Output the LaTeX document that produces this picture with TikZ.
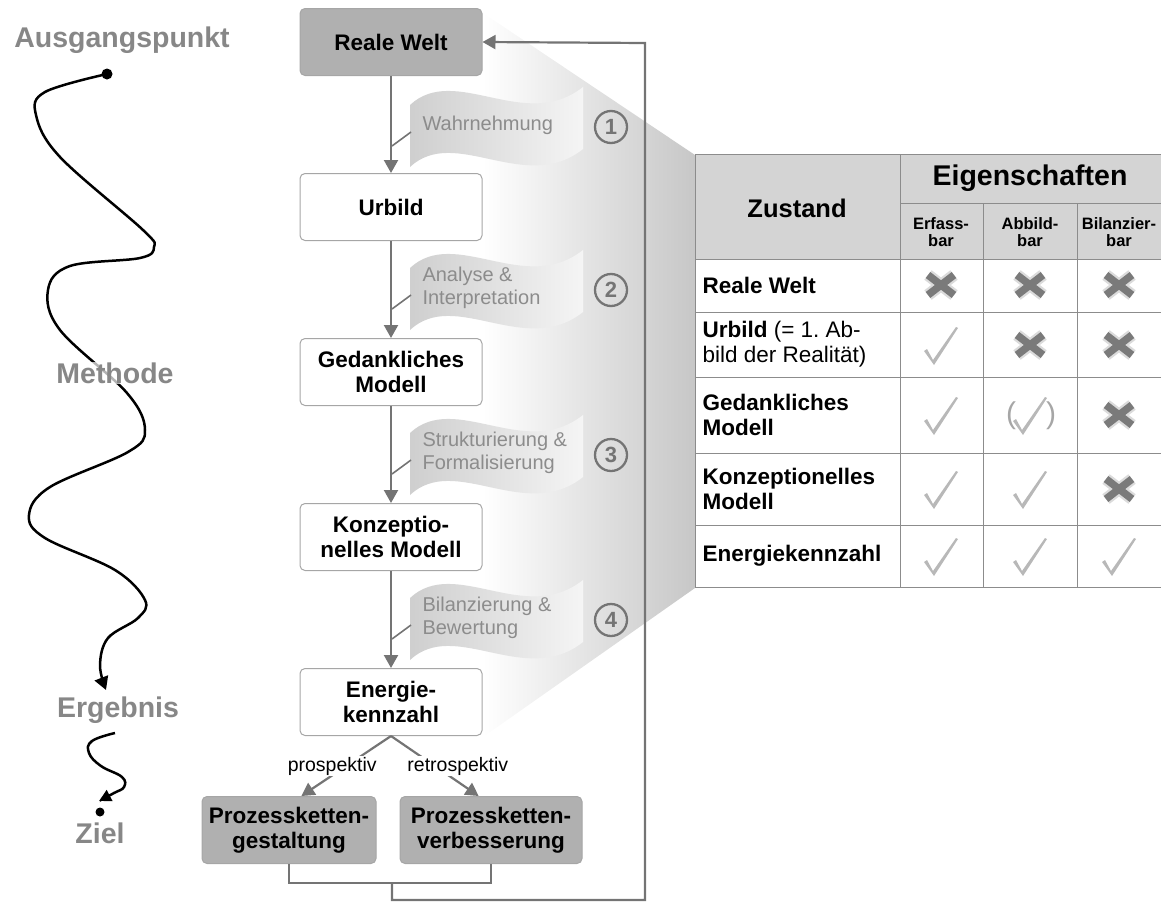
\documentclass[tikz,border=0pt]{standalone}
\usepackage{fontspec}
\setmainfont{Liberation Sans}
\usetikzlibrary{positioning, arrows.meta}
\frenchspacing

\definecolor{liniengrau}{HTML}{747474}
\definecolor{titelgrau}{HTML}{878787}

\tikzset{
  zustand/.style={draw=black!35, line width=1pt, rounded corners=5pt, fill=white,
    minimum width=182pt, minimum height=67pt, align=center,
    font=\bfseries\fontsize{22.5}{25}\selectfont},
  welt/.style={zustand, fill=black!31},
  flow/.style={draw=liniengrau, line width=2.2pt},
  tip/.style={-{Triangle[length=13pt,width=14pt]}},
  etappe/.style={font=\bfseries\fontsize{28.5}{30}\selectfont, text=titelgrau},
  fahnentext/.style={font=\fontsize{20}{23}\selectfont, text=black!45, align=left, anchor=west},
  nummer/.style={circle, draw=liniengrau, line width=2.3pt, minimum size=32pt, inner sep=0pt,
    text=liniengrau, font=\bfseries\fontsize{22}{22}\selectfont},
  richtung/.style={font=\fontsize{19.5}{22}\selectfont, fill=white, inner sep=1pt},
  tabline/.style={draw=black!45, line width=1pt},
  kopf/.style={font=\bfseries\fontsize{#1}{#1}\selectfont, align=center},
  zeile/.style={font=\fontsize{22.5}{25}\selectfont, align=left, anchor=west},
  spalte/.style={font=\bfseries\fontsize{16.5}{17}\selectfont, align=center},
  haken/.pic={\fill[black!28] (-17,5) -- (-14,3) -- (-8,14) -- (15,-19) -- (17,-18) -- (-7,19) -- cycle;},
  kreuz/.pic={
    \draw[black!14, line width=12pt] (-13,-10) -- (13,10) (-13,10) -- (13,-10);
    \draw[black!52, line width=7.5pt] (-13,-10) -- (13,10) (-13,10) -- (13,-10);}
}

\begin{document}
\begin{tikzpicture}[x=1pt, y=-1pt, node distance=165pt, on grid]
\useasboundingbox (0,0) rectangle (1161,902);

% Trichter zur Tabelle
\shade[left color=white, right color=black!22] (483,13) -- (695,155) -- (695,588) -- (483,737) -- cycle;

% linker Weg
\node[etappe] (start) at (122,40) {Ausgangspunkt};
\node[etappe] (ergebnis) at (118,710) {Ergebnis};
\node[etappe] (ziel) at (100,833) {Ziel};
\draw[line width=2.5pt, tip] plot[smooth, tension=0.6] coordinates {(107,74) (45,92) (36,115) (60,157) (143,230) (154,247) (140,258) (70,266) (48,290) (60,330) (127,393) (145,430) (128,452) (50,487) (29,515) (45,538) (115,570) (145,600) (138,618) (108,638) (100,665) (106,690)};
\draw[line width=2.5pt, -{Triangle[length=12pt,width=12pt]}] plot[smooth, tension=0.7] coordinates {(115,733) (92,741) (89,753) (101,766) (122,777) (124,787) (114,793) (99,801)};
\fill (107,74) circle (5.5);
\fill (100,812) circle (4.5);
\node[etappe, fill=white, fill opacity=0.7, text opacity=1, inner sep=1pt] (methode) at (115,373) {Methode};

% Kette der Zustaende
\node[welt] (rw) at (391,42) {Reale Welt};
\node[zustand] (ub) [below=of rw] {Urbild};
\node[zustand] (gm) [below=of ub] {Gedankliches\\Modell};
\node[zustand] (km) [below=of gm] {Konzeptio-\\nelles Modell};
\node[zustand] (ek) [below=of km] {Energie-\\kennzahl};
\node[welt, minimum width=174pt] (pg) at (289,830) {Prozessketten-\\gestaltung};
\node[welt] (vb) at (491,830) {Prozessketten-\\verbesserung};

\draw[flow, tip] (rw) -- (ub);
\draw[flow, tip] (ub) -- (gm);
\draw[flow, tip] (gm) -- (km);
\draw[flow, tip] (km) -- (ek);
\draw[flow, tip] (ek.south) -- node[richtung, xshift=-14pt] {prospektiv} (pg.70);
\draw[flow, tip] (ek.south) -- node[richtung, xshift=23pt] {retrospektiv} (vb.110);

% Rueckfuehrung
\coordinate (zu) at (392,883);
\coordinate (unten) at (392,900);
\coordinate (rueck) at (645,43);
\draw[flow] (pg.south) |- (zu) -| (vb.south);
\draw[flow, tip] (zu) -- (unten) -| (rueck) -- (rw.east);

% Fahnen
\foreach \c/\txt/\n in {125/Wahrnehmung/1, 288/{Analyse \&\\Interpretation}/2,
    453/{Strukturierung \&\\Formalisierung}/3, 618/{Bilanzierung \&\\Bewertung}/4}{
  \shade[left color=black!19, right color=black!4]
    (410,\c-20) .. controls (455,\c-62) and (525,\c+8) .. (583,\c-38)
    -- (583,\c+24) .. controls (525,\c+70) and (455,\c+0) .. (410,\c+42) -- cycle;
  \node[fahnentext] (ft\n) at (419,\c) {\txt};
  \node[nummer] (nr\n) at (611,\c+2) {\n};
  \coordinate (an\n) at (392,\c+21);
  \coordinate (fl\n) at (411,\c+7);
  \draw[liniengrau, line width=1.6pt] (an\n) -- (fl\n);
}

% Tabelle
\fill[black!17] (695,154) rectangle (1170,259);
\draw[tabline] (1170,154) -- (695,154) -- (695,587) -- (1170,587);
\foreach \y in {259,312,377,453,525}
  \draw[tabline] (695,\y) -- (1170,\y);
\draw[tabline] (900,203) -- (1170,203);
\draw[tabline] (900,154) -- (900,587);
\foreach \x in {983,1077}
  \draw[tabline] (\x,203) -- (\x,587);

\node[kopf=25.5] (zst) at (797,208) {Zustand};
\node[kopf=28.5] (eig) at (1030,178) {Eigenschaften};
\node[spalte] (s1) at (941,232) {Erfass-\\bar};
\node[spalte] (s2) at (1030,232) {Abbild-\\bar};
\node[spalte] (s3) at (1119,232) {Bilanzier-\\bar};

\node[zeile] (z1) at (699,285) {\textbf{Reale Welt}};
\node[zeile] (z2) at (699,344) {\textbf{Urbild} (= 1. Ab-\\bild der Realität)};
\node[zeile] (z3) at (699,415) {\textbf{Gedankliches}\\\textbf{Modell}};
\node[zeile] (z4) at (699,489) {\textbf{Konzeptionelles}\\\textbf{Modell}};
\node[zeile] (z5) at (699,556) {\textbf{Energiekennzahl}};

\foreach \x/\y in {941/285, 1030/285, 1119/285, 1030/345, 1119/345, 1119/415, 1119/489}
  \pic at (\x,\y) {kreuz};
\foreach \x/\y in {941/346, 941/416, 1030/416, 941/490, 1030/490, 941/557, 1030/557, 1119/557}
  \pic at (\x,\y) {haken};
\node[text=black!35, font=\fontsize{30}{30}\selectfont] (klammer) at (1031,416) {(\hspace{30pt})};
\end{tikzpicture}
\end{document}
